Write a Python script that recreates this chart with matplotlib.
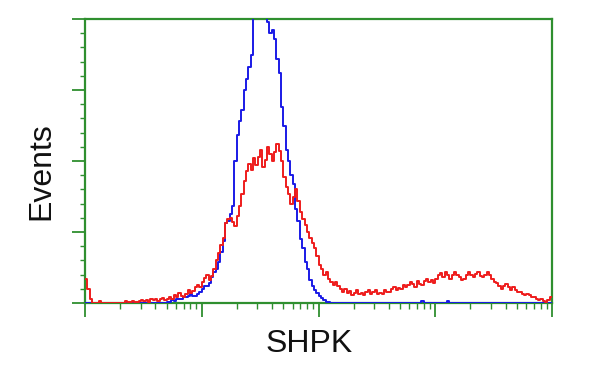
import numpy as np
import matplotlib
matplotlib.use("Agg")
import matplotlib.pyplot as plt
from matplotlib.ticker import LogLocator, MultipleLocator, NullFormatter

# bin centers in decades (log10 of fluorescence intensity), 0.02-decade bins
log_centers = np.arange(200) * 0.02 + 0.01

# counts per bin, control (blue)
blue_counts = [0] * 34 + [
    0, 1, 1, 2, 1.5, 2.5, 3, 2.5, 4, 4,
    5, 6, 5, 5, 6.5, 8, 10, 12, 12, 14,
    18, 22, 24, 29, 36, 44, 56, 58, 63, 68,
    100, 118, 128, 136, 150, 158, 166, 175, 205, 225,
    240, 240, 230, 218, 198, 190, 192, 186, 172, 162,
    138, 125, 108, 100, 90, 84, 66, 58, 45, 39,
    29, 24, 16, 12, 9, 7, 5, 3.5, 2, 1,
    1, 0,
] + [0] * 38 + [1.5, 0] + [0] * 8 + [0, 1.5] + [0] * 44

# counts per bin, SHPK stained (red)
red_counts = [
    17, 10, 3, 0, 0, 0, 1.5, 0, 0, 0,
    0, 0, 0, 0, 0, 0, 0, 1.5, 1, 0.5,
    1.5, 1, 1, 1.5, 2, 1.5, 2, 1, 2.5, 2,
    2.5, 1.5, 3, 3.5, 2, 3, 4, 3, 5.5, 4,
    7, 5, 4, 6, 9, 7, 8.5, 11, 13, 11,
    15, 17.5, 20, 16, 19, 24, 30, 35, 41, 46,
    56, 59, 60, 57, 54, 61, 68, 77, 86, 93,
    98, 94, 102, 97, 103, 108, 96, 101, 110, 105,
    100, 106, 112, 107, 100, 89, 82, 77, 70, 75,
    80, 72, 64, 59, 55, 50, 46, 42, 39, 33,
    27, 24, 20, 22, 17, 15, 13, 14.5, 12, 10,
    8, 10, 7, 8.5, 5.5, 7, 9, 6.5, 7, 5.5,
    8, 9.5, 6, 8, 9, 6.5, 7, 6, 9.5, 7.5,
    8, 10, 11.5, 9, 10.5, 10, 13, 11, 12.5, 15,
    13.5, 11.5, 15.5, 13.5, 12.5, 15.5, 17, 14.5, 16, 14,
    17, 19.5, 21, 18.5, 22, 20, 17, 19.5, 22, 20,
    18, 16, 17, 20, 22, 20, 18, 20.5, 22, 19,
    18, 20, 22, 19.5, 17, 15, 14, 12, 10, 12,
    13.5, 11.5, 9.5, 11, 9.5, 8, 8, 6.5, 5.5, 6.5,
    5.5, 4, 4, 3, 2, 3, 1.5, 1, 2, 4,
]

x_label = "SHPK"
y_label = "Events"

green = "#2f8f2f"

fig = plt.figure(figsize=(6, 3.75), dpi=100)
ax = fig.add_axes([85 / 600, 1 - 303 / 375, 467 / 600, 284 / 375])

x_vals = 10 ** log_centers
ax.plot(x_vals, blue_counts, color="#1a1ae6", lw=1.4, drawstyle="steps-mid", zorder=3)
ax.plot(x_vals, red_counts, color="#ee1c1c", lw=1.4, drawstyle="steps-mid", zorder=4)

ax.set_xscale("log")
ax.set_xlim(1, 1e4)
ax.set_ylim(0, 200)

ax.xaxis.set_major_locator(LogLocator(base=10, numticks=10))
ax.xaxis.set_minor_locator(LogLocator(base=10, subs=np.arange(2, 10), numticks=20))
ax.xaxis.set_major_formatter(NullFormatter())
ax.xaxis.set_minor_formatter(NullFormatter())
ax.yaxis.set_major_locator(MultipleLocator(50))
ax.yaxis.set_minor_locator(MultipleLocator(10))
ax.yaxis.set_major_formatter(NullFormatter())

for s in ax.spines.values():
    s.set_color(green)
    s.set_linewidth(1.6)

ax.tick_params(axis="x", which="major", length=10, width=1.3, color=green, direction="out")
ax.tick_params(axis="x", which="minor", length=4, width=1.0, color=green, direction="out")
ax.tick_params(axis="y", which="major", length=9.5, width=1.3, color=green, direction="out")
ax.tick_params(axis="y", which="minor", length=3.6, width=1.0, color=green, direction="out")

fig.text(309 / 600, 1 - 344 / 375, x_label, ha="center", va="center",
         fontsize=23, family=["Liberation Sans", "DejaVu Sans"], color="#111111")
fig.text(41 / 600, 1 - 171 / 375, y_label, ha="center", va="center", rotation=90,
         fontsize=23, family=["Liberation Sans", "DejaVu Sans"], color="#111111")

fig.savefig("out.png", dpi=100)
